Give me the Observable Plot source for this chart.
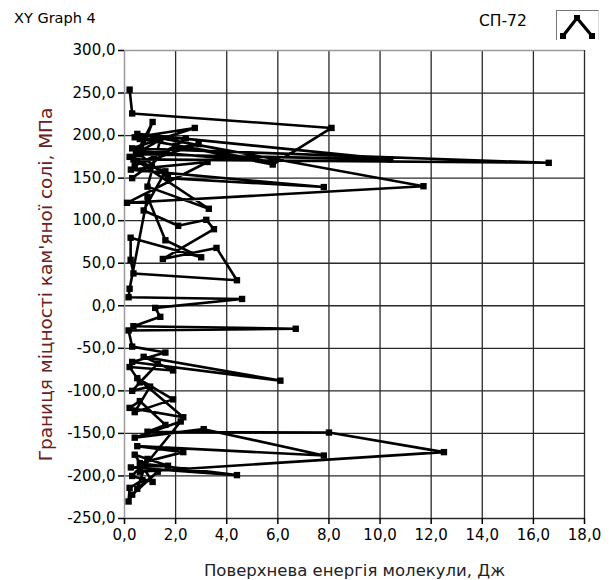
<!DOCTYPE html>
<html>
<head>
<meta charset="utf-8">
<script src="https://cdn.jsdelivr.net/npm/d3@7"></script>
<script src="https://cdn.jsdelivr.net/npm/@observablehq/plot@0.6"></script>
<style>
  html, body { margin: 0; padding: 0; background: #fff; }
  body { width: 609px; height: 580px; overflow: hidden; font-family: "DejaVu Sans", sans-serif; }
  #header { position: relative; height: 40px; width: 609px; }
  #title { position: absolute; left: 14px; top: 10px; font-size: 14.5px; color: #000; }
  #legname { position: absolute; left: 479px; top: 12px; font-size: 15.5px; color: #000; }
  #legbox { position: absolute; left: 556px; top: 10px; width: 43px; height: 32px; box-sizing: border-box;
            border-top: 1px solid #777; border-left: 1px solid #777; border-right: 1px solid #ddd; border-bottom: 1px solid #ddd; background: #fff; }
  #legline { position: absolute; left: 457px; top: 47px; width: 144px; height: 1px; background: #ddd; }
  #chart { position: absolute; left: 0; top: 40px; }
</style>
</head>
<body>
<div id="header">
  <div id="title">XY Graph 4</div>
  <div id="legname">СП-72</div>
  <div id="legbox">
    <svg width="41" height="30" viewBox="0 0 41 30">
      <polyline points="6,25 20,7 35,25" fill="none" stroke="#000" stroke-width="3.2"/>
      <rect x="3" y="22" width="6" height="6" fill="#000"/>
      <rect x="17" y="4" width="6" height="6" fill="#000"/>
      <rect x="32" y="22" width="6" height="6" fill="#000"/>
    </svg>
  </div>
</div>
<div id="legline"></div>
<div id="chart"></div>
<script>
// Surface energy of molecule, J (x) and strength limit of rock salt, MPa (y), in drawing order
const energy = [
  0.20, 0.30, 8.10, 5.80, 0.40, 2.75, 0.30, 16.6, 0.35, 1.10,
  0.60, 10.4, 0.50, 11.7, 0.10, 3.25, 0.25, 7.80, 1.70, 0.45,
  5.80, 0.60, 2.40, 0.30, 2.00, 0.40, 2.90, 0.20, 1.40, 0.90,
  3.30, 0.50, 1.60, 0.75, 2.10, 3.20, 3.50, 1.50, 3.60, 4.40,
  0.35, 0.24, 0.24, 3.00, 1.60, 0.90, 0.20, 0.16, 4.60, 1.20,
  1.40, 0.35, 6.70, 0.16, 0.30, 1.60, 0.30, 6.10, 0.75, 1.90,
  0.20, 0.60, 1.30, 0.30, 1.00, 0.40, 1.90, 0.50, 2.30, 0.20,
  0.60, 1.60, 0.90, 8.00, 12.5, 0.60, 2.20, 0.40, 3.10, 7.80,
  0.50, 2.30, 0.60, 4.40, 0.25, 1.70, 0.40, 1.10, 0.30, 0.90,
  0.50, 1.30, 0.30, 0.16, 0.20, 0.70
];
const strength = [
  254, 226, 209, 166, 198, 209, 185, 168, 172, 216,
  178, 172, 202, 140.5, 121, 169, 160, 139.5, 150, 182,
  169, 196, 197, 150, 188, 165, 190, 175, 195, 140,
  114, 170, 158, 112, 94, 101, 90, 55, 68, 30,
  38, 54, 80, 57, 77, 128, 20, 10, 8, -2.5,
  -13, -24, -27, -29, -48, -55, -66, -88, -60, -76,
  -72, -90, -68, -100, -95, -125, -110, -85, -131, -120,
  -112, -140, -148, -149, -172, -195, -136, -155, -145, -176,
  -165, -172, -185, -199, -190, -188, -175, -207, -200, -180,
  -215, -195, -222, -230, -214, -205
];
const xTicks = [0, 2, 4, 6, 8, 10, 12, 14, 16, 18];
const yTicks = [300, 250, 200, 150, 100, 50, 0, -50, -100, -150, -200, -250];
const xTitle = "Поверхнева енергія молекули, Дж";
const yTitle = "Границя міцності кам'яної солі, МПа";

const data = energy.map((e, i) => ({e, s: strength[i]}));
const fmt = v => v.toFixed(1).replace(".", ",");

const chart = Plot.plot({
  width: 609,
  height: 540,
  marginLeft: 124,
  marginRight: 25,
  marginTop: 10,
  marginBottom: 62,
  style: {fontFamily: "'DejaVu Sans', sans-serif", fontSize: "15px", color: "#000", background: "#fff", overflow: "visible"},
  x: {domain: [0, 18], label: null},
  y: {domain: [-250, 300], label: null},
  marks: [
    Plot.gridX(xTicks.filter(d => d !== 0), {stroke: "#2a2a2a", strokeOpacity: 1, strokeWidth: 1.3}),
    Plot.gridY(yTicks.filter(d => d !== 300), {stroke: "#2a2a2a", strokeOpacity: 1, strokeWidth: 1.3}),
    Plot.ruleX([0], {stroke: "#9a9a9a", strokeWidth: 1.5}),
    Plot.ruleY([300], {stroke: "#9a9a9a", strokeWidth: 1.5}),
    Plot.line(data, {x: "e", y: "s", stroke: "#000", strokeWidth: 2.6, curve: "linear"}),
    Plot.dot(data, {x: "e", y: "s", symbol: "square", r: 3.6, fill: "#000", stroke: "none"}),
    Plot.axisX(xTicks, {tickFormat: fmt, tickSize: 6, tickPadding: 5, stroke: "#000", strokeWidth: 1.5, label: null}),
    Plot.axisY(yTicks, {tickFormat: fmt, tickSize: 6, tickPadding: 3, stroke: "#000", strokeWidth: 1.5, label: null}),
    Plot.text([xTitle], {frameAnchor: "bottom", dy: 52, lineAnchor: "middle", textAnchor: "middle", fontSize: 16.5, fill: "#222"}),
    Plot.text([yTitle], {frameAnchor: "left", dx: -78, rotate: -90, lineAnchor: "middle", textAnchor: "middle", fontSize: 18.5, fill: "#6a2020"})
  ]
});
document.getElementById("chart").appendChild(chart);
</script>
</body>
</html>
